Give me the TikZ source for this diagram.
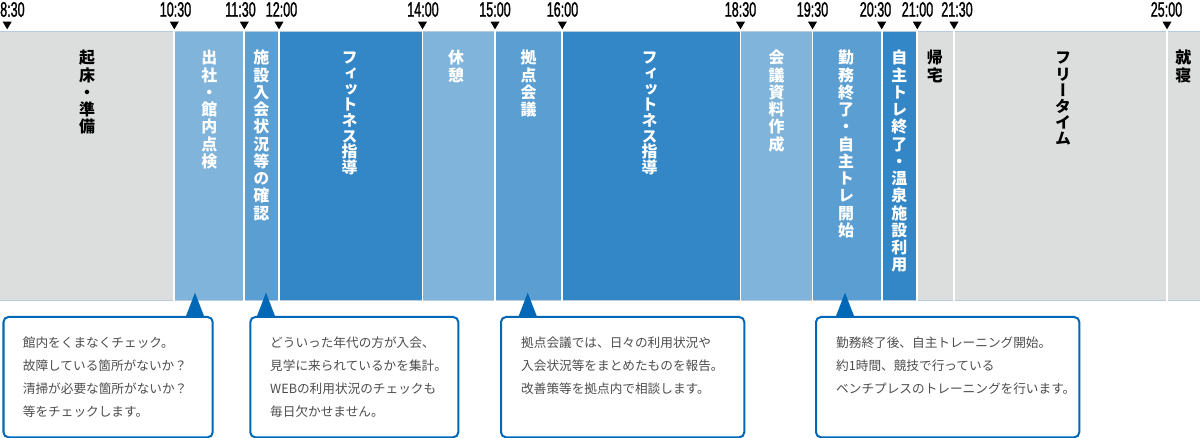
\documentclass[tikz,border=0pt]{standalone}
\usepackage{fontspec}
\newfontfamily\jp{Noto Sans CJK JP}
\newfontfamily\jpv[RawFeature=+vert]{Noto Sans CJK JP}
\newfontfamily\tfont[FakeStretch=0.6,FakeBold=1.2]{Liberation Sans}
\definecolor{cgray}{HTML}{DCDDDD}
\definecolor{clight}{HTML}{80B4DA}
\definecolor{cmed}{HTML}{5B9ED2}
\definecolor{cdark}{HTML}{3487C7}
\definecolor{cblue}{HTML}{0068B7}
\definecolor{ctext}{HTML}{4D4D4D}
\definecolor{cborder}{HTML}{B7CBDD}
\tikzset{
  vlab/.style={font=\jpv\bfseries\fontsize{16}{17.3}\selectfont, text width=20bp, align=center, inner sep=0pt, anchor=base, text=white},
  vblack/.style={vlab, text=black},
  kana/.style={font=\jpv\bfseries\fontsize{16}{15.7}\selectfont},
  tlab/.style={font=\tfont\fontsize{21}{22}\selectfont, inner sep=0pt, anchor=base},
  callbox/.style={draw=cblue, line width=2bp, rounded corners=5bp, fill=white, inner sep=0pt, anchor=north west},
  calltext/.style={font=\jp\fontsize{12.7}{22.8}\selectfont, text=ctext, text width=270bp, align=left, inner sep=0pt, anchor=base west},
  sep/.style={white, line width=1.8bp},
}
\begin{document}
\begin{tikzpicture}[x=1bp,y=-1bp]
\useasboundingbox (0,0) rectangle (1200,438);
% columns
\foreach \xa/\xb/\col in {0/174.3/cgray, 174.3/244.3/clight, 244.3/279/cmed, 279/422.5/cdark, 422.5/495/clight, 495/562.3/cmed, 562.3/740.5/cdark, 740.5/812.5/clight, 812.5/881.7/cmed, 881.7/917.3/cdark, 917.3/954/cgray, 954/1167/cgray, 1167/1200/cgray}{
  \fill[\col] (\xa,31) rectangle (\xb,301);
}
\draw[cborder, line width=0.8bp] (0,31.4) -- (1200,31.4);
\draw[cborder, line width=0.8bp] (0,300.6) -- (1200,300.6);
\foreach \x in {174.3, 244.3, 279, 422.5, 495, 562.3, 740.5, 812.5, 881.7, 917.3, 954, 1167}{
  \draw[sep] (\x,31) -- (\x,301);
}
% time labels and ticks
\node[tlab, anchor=base west] (time0) at (0,16.7) {8:30};
\coordinate (tick0) at (7.2,29.3);
\fill (tick0) -- ++(-4.5,-7.6) -- ++(9,0) -- cycle;
\foreach \x/\lx/\t [count=\i] in {174.3/175.5/10:30, 244.3/240.5/11:30, 279/281.5/12:00, 422.5/423/14:00, 495/495/15:00, 562.3/562.5/16:00, 740.5/740.5/18:30, 812.5/812.5/19:30, 881.7/875.5/20:30, 917.3/917.5/21:00, 954/957/21:30, 1167/1166.5/25:00}{
  \node[tlab] (time\i) at (\lx,16.7) {\t};
  \coordinate (tick\i) at (\x,29.3);
  \fill (tick\i) -- ++(-4.5,-7.6) -- ++(9,0) -- cycle;
}
% column labels
\node[vblack] (l1) at (87.2,64) {起\\床\\・\\準\\備};
\node[vlab] (l2) at (209.3,64) {出\\社\\・\\館\\内\\点\\検};
\node[vlab] (l3) at (261.3,64) {施\\設\\入\\会\\状\\況\\等\\の\\確\\認};
\node[vlab, kana] (l4) at (349.5,64) {フ\\ィ\\ッ\\ト\\ネ\\ス\\指\\導};
\node[vlab] (l5) at (456,64) {休\\憩};
\node[vlab] (l6) at (528.5,64) {拠\\点\\会\\議};
\node[vlab, kana] (l7) at (649.5,64) {フ\\ィ\\ッ\\ト\\ネ\\ス\\指\\導};
\node[vlab] (l8) at (776.5,64) {会\\議\\資\\料\\作\\成};
\node[vlab] (l9) at (846,64) {勤\\務\\終\\了\\・\\自\\主\\ト\\レ\\開\\始};
\node[vlab] (l10) at (899.3,64) {自\\主\\ト\\レ\\終\\了\\・\\温\\泉\\施\\設\\利\\用};
\node[vblack] (l11) at (934.8,64) {帰\\宅};
\node[vblack, kana, font=\jpv\bfseries\fontsize{16}{16.2}\selectfont] (l12) at (1063,64) {フ\\リ\\ー\\タ\\イ\\ム};
\node[vblack] (l13) at (1183.3,64) {就\\寝};
% callouts
\node[callbox, minimum width=209.2bp, minimum height=120.3bp] (box1) at (2.5,316) {};
\node[callbox, minimum width=208bp, minimum height=120.3bp] (box2) at (249.3,316) {};
\node[callbox, minimum width=243.3bp, minimum height=120.3bp] (box3) at (500,316) {};
\node[callbox, minimum width=263.3bp, minimum height=120.3bp] (box4) at (815,316) {};
\coordinate (ptr1) at (195,292.7);
\coordinate (ptr2) at (266,292.7);
\coordinate (ptr3) at (527.7,292.7);
\coordinate (ptr4) at (845,292.7);
\foreach \p in {ptr1,ptr2,ptr3,ptr4}{
  \fill[cblue] (\p) -- ++(-9,23.3) -- ++(18,0) -- cycle;
}
\node[calltext] (txt1) at (22.7,347.9) {館内をくまなくチェック。\\故障している箇所がないか？\\清掃が必要な箇所がないか？\\等をチェックします。};
\node[calltext] (txt2) at (270,347.9) {どういった年代の方が入会、\\見学に来られているかを集計。\\WEBの利用状況のチェックも\\毎日欠かせません。};
\node[calltext] (txt3) at (521,347.9) {拠点会議では、日々の利用状況や\\入会状況等をまとめたものを報告。\\改善策等を拠点内で相談します。};
\node[calltext] (txt4) at (836,347.9) {勤務終了後、自主トレーニング開始。\\約1時間、競技で行っている\\ベンチプレスのトレーニングを行います。};
\end{tikzpicture}
\end{document}
